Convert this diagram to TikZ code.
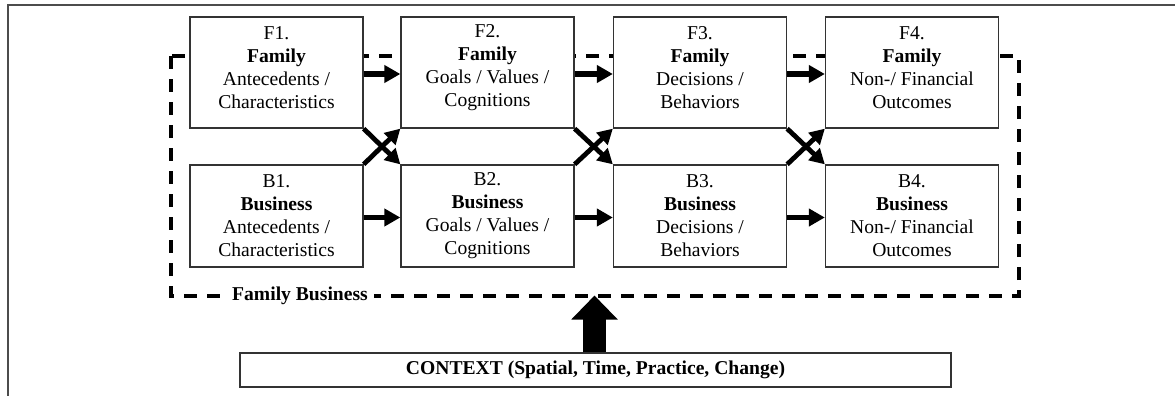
\documentclass[tikz,border=0pt]{standalone}
\usepackage{fontspec}
\setmainfont{Liberation Serif}
\usetikzlibrary{arrows.meta}
\begin{document}
\begin{tikzpicture}[x=1pt,y=-1pt,
  box/.style={draw=black!80, line width=1.3pt, fill=white, minimum width=173pt, inner sep=0pt},
  fbox/.style={box, minimum height=111pt},
  bbox/.style={box, minimum height=102pt},
  txt/.style={align=center, font=\fontsize{19.6}{23}\selectfont, inner sep=0pt},
  harrow/.style={line width=5.5pt, -{Triangle[length=16pt,width=17pt]}},
  darrow/.style={line width=4.8pt, -{Triangle[length=15pt,width=16pt]}},
  fbline/.style={line width=3.5pt, dash pattern=on 13pt off 10pt},
]
\useasboundingbox (0,0) rectangle (1175,396);
\draw[black!70, line width=2pt] (8,396) -- (8,5) -- (1175,5);
% family business dashed region
\draw[fbline] (171,56) rectangle (1019,296);
% boxes
\node[fbox] (F1) at (276.5,72.5) {};
\node[fbox] (F2) at (487.5,72.5) {};
\node[fbox] (F3) at (700,72.5) {};
\node[fbox] (F4) at (912,72.5) {};
\node[bbox] (B1) at (276.5,216) {};
\node[bbox] (B2) at (487.5,216) {};
\node[bbox] (B3) at (700,216) {};
\node[bbox] (B4) at (912,216) {};
\node[txt] (F1t) at (276.5,67.5) {F1.\\\textbf{Family}\\Antecedents /\\Characteristics};
\node[txt] (F2t) at (487.5,67.5) {F2.\\\textbf{Family}\\Goals / Values /\\Cognitions};
\node[txt] (F3t) at (700,67.5) {F3.\\\textbf{Family}\\Decisions /\\Behaviors};
\node[txt] (F4t) at (912,67.5) {F4.\\\textbf{Family}\\Non-/ Financial\\Outcomes};
\node[txt] (B1t) at (276.5,215.5) {B1.\\\textbf{Business}\\Antecedents /\\Characteristics};
\node[txt] (B2t) at (487.5,215.5) {B2.\\\textbf{Business}\\Goals / Values /\\Cognitions};
\node[txt] (B3t) at (700,215.5) {B3.\\\textbf{Business}\\Decisions /\\Behaviors};
\node[txt] (B4t) at (912,215.5) {B4.\\\textbf{Business}\\Non-/ Financial\\Outcomes};
% arrows
\foreach \a/\b in {F1/F2,F2/F3,F3/F4,B1/B2,B2/B3,B3/B4}{
  \draw[harrow] ([yshift=-1.5pt]\a.east) -- ([yshift=-1.5pt]\b.west);
}
\foreach \a/\b in {1/2,2/3,3/4}{
  \draw[darrow] (F\a.south east) -- (B\b.north west);
  \draw[darrow] (B\a.north east) -- (F\b.south west);
}
% label
\node[txt, font=\fontsize{19.6}{23}\selectfont\bfseries, fill=white, inner xsep=6pt] (FB) at (300,296) {Family Business};
% context
\node[draw=black!80, line width=1.3pt, minimum width=711pt, minimum height=34pt, inner sep=0pt,
      font=\fontsize{19.6}{23}\selectfont\bfseries] (ctx) at (595.5,370) {CONTEXT (Spatial, Time, Practice, Change)};
\coordinate (fbtop) at (594.5,295.5);
\draw[line width=23pt, -{Triangle[length=24pt,width=45pt]}] (ctx.north -| fbtop) -- (fbtop);
\end{tikzpicture}
\end{document}
